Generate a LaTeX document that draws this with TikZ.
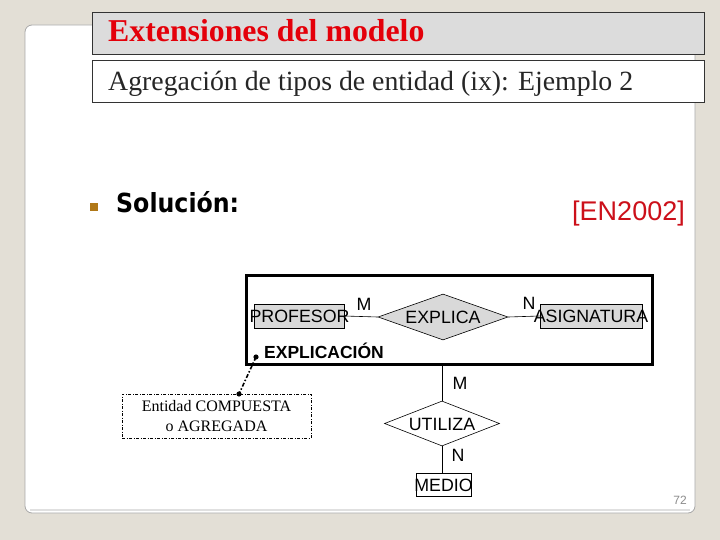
\documentclass[tikz,border=0pt]{standalone}
\usepackage{fontspec}
\setmainfont{Liberation Serif}
\newfontfamily\arialf{Liberation Sans}
\newfontfamily\verdf[FakeStretch=0.9]{DejaVu Sans}
\usetikzlibrary{shapes.geometric}
\definecolor{bgcol}{RGB}{227,223,214}
\definecolor{panelline}{RGB}{168,168,168}
\definecolor{titlefill}{RGB}{220,220,220}
\definecolor{titlered}{RGB}{228,0,10}
\definecolor{refred}{RGB}{204,16,26}
\definecolor{entgray}{RGB}{217,217,217}
\definecolor{bulletcol}{RGB}{176,120,24}
\tikzset{
  hdrbox/.style={draw=black!80, line width=0.8pt, minimum width=612pt, minimum height=42pt, inner sep=0pt, anchor=north west},
  erfont/.style={font=\arialf\fontsize{17.8}{18}\selectfont, inner sep=0pt},
  entbox/.style={draw, line width=0.6pt, fill=entgray, minimum height=24pt, inner sep=0pt},
  relbox/.style={diamond, draw, line width=0.6pt, inner sep=0pt},
  card/.style={erfont},
  conn/.style={line width=0.6pt},
}
\begin{document}
\begin{tikzpicture}[x=1pt,y=-1pt]
\fill[bgcol] (0,0) rectangle (720,540);
\useasboundingbox (0,0) rectangle (720,540);
% panel
\draw[panelline, fill=white, line width=0.8pt, rounded corners=7pt] (25,25) rectangle (695,513);
\draw[black!12, line width=2pt] (30,510) -- (690,510);
% header boxes
\node[hdrbox, fill=titlefill] (titlebox) at (92,12) {};
\node[anchor=base west, inner sep=0pt, text=titlered, font=\bfseries\fontsize{31.8}{32}\selectfont] (titletext) at (108,42) {Extensiones del modelo};
\node[hdrbox, fill=white] (subbox) at (92,60) {};
\node[anchor=base west, inner sep=0pt, text=black!85, font=\fontsize{27.8}{28}\selectfont] (subtext) at (108,91) {Agregación de tipos de entidad (ix): Ejemplo 2};
% bullet line
\fill[bulletcol] (90,203) rectangle (98,211);
\node[anchor=base west, inner sep=0pt, font=\verdf\bfseries\fontsize{26.3}{27}\selectfont] (sol) at (116,212) {Solución:};
\node[anchor=base east, inner sep=0pt, text=refred, font=\arialf\fontsize{27}{27}\selectfont] (ref) at (685,221) {[EN2002]};
% aggregation box
\node[draw, line width=3pt, minimum width=406pt, minimum height=89pt, inner sep=0pt] (agg) at (449.5,320) {};
% entities and relationships
\node[entbox, minimum width=90pt] (prof) at (299,316) {};
\node[erfont] (profT) at (299.5,316.5) {PROFESOR};
\node[relbox, fill=entgray, minimum width=130pt, minimum height=46pt] (expl) at (443,317) {};
\node[erfont] (explT) at (443,317.5) {EXPLICA};
\node[entbox, minimum width=102pt] (asig) at (591,316) {};
\node[erfont] (asigT) at (591,316.5) {ASIGNATURA};
\draw[conn] (prof.east) -- (expl.west);
\draw[conn] (expl.east) -- (asig.west);
\node[card] (m1) at (364,304) {M};
\node[card] (n1) at (529,303) {N};
\node[anchor=base west, inner sep=0pt, font=\arialf\bfseries\fontsize{17.5}{18}\selectfont] (aggT) at (264,358.5) {EXPLICACIÓN};
% utiliza
\node[relbox, fill=white, minimum width=115pt, minimum height=45pt] (util) at (442,423.5) {};
\node[erfont] (utilT) at (442,424) {UTILIZA};
\node[draw, line width=0.6pt, fill=white, minimum width=55pt, minimum height=23pt, inner sep=0pt] (medio) at (443.5,484.5) {};
\node[erfont] (medioT) at (443.5,485) {MEDIO};
\draw[conn] (util.north |- agg.south) -- (util.north);
\draw[conn] (util.south) -- (util.south |- medio.north);
\node[card] (m2) at (460,383) {M};
\node[card] (n2) at (458,455) {N};
% composite annotation
\node[draw, line width=0.6pt, dash pattern=on 3pt off 1.5pt on 1pt off 1.5pt, minimum width=189pt, minimum height=44pt, align=center, inner sep=0pt, font=\fontsize{16}{20}\selectfont] (comp) at (216.5,416) {Entidad COMPUESTA\\o AGREGADA};
\coordinate (d1) at (256,357);
\coordinate (d2) at (239,394);
\draw[line width=1.6pt, dash pattern=on 4pt off 2pt on 1.5pt off 2pt] (d1) -- (d2);
\fill (d1) circle (2.6pt);
\fill (d2) circle (2.6pt);
% page number
\node[text=black!45, inner sep=0pt, font=\arialf\fontsize{12}{12}\selectfont] (pnum) at (680,500) {72};
\end{tikzpicture}
\end{document}
